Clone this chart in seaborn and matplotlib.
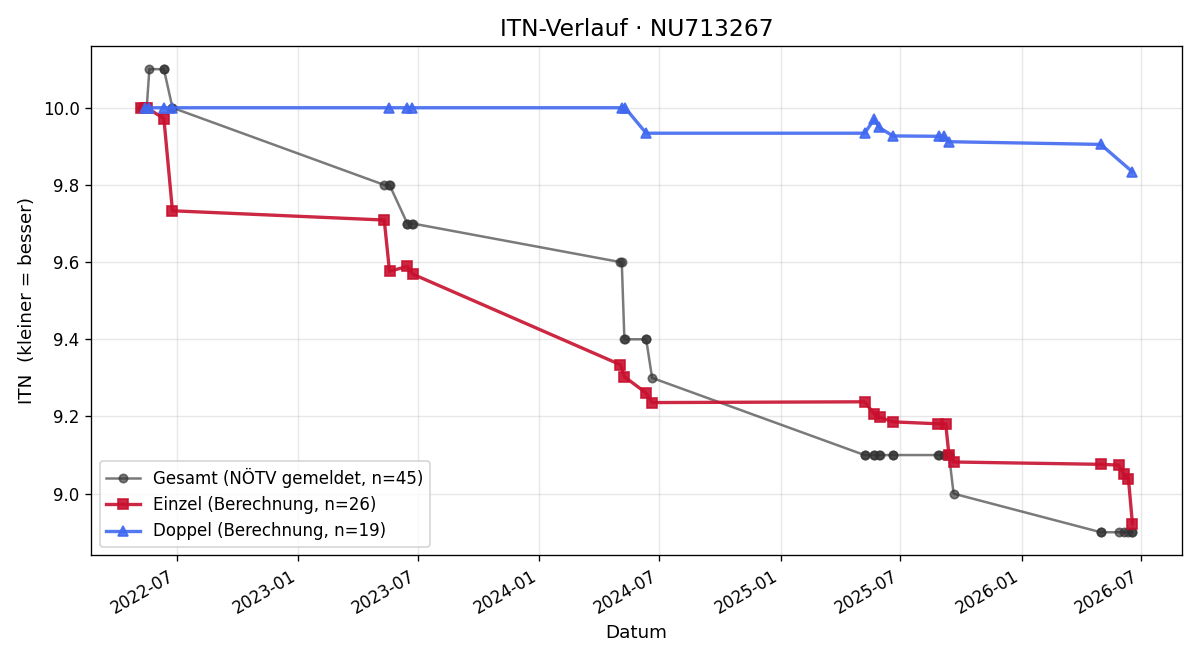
import pandas as pd
import numpy as np
import matplotlib
matplotlib.use('Agg')
import matplotlib.pyplot as plt
import matplotlib.dates as mdates
import seaborn as sns

# Daten
gesamt_datum = [
    '2022-05-07', '2022-05-13', '2022-05-13', '2022-05-16', '2022-05-20',
    '2022-06-11', '2022-06-11', '2022-06-24', '2022-06-24',
    '2023-05-11', '2023-05-18', '2023-05-19', '2023-06-15', '2023-06-15',
    '2023-06-22', '2023-06-23',
    '2024-05-03', '2024-05-05', '2024-05-09', '2024-05-10', '2024-06-10',
    '2024-06-11', '2024-06-20',
    '2025-05-08', '2025-05-08', '2025-05-23', '2025-05-23', '2025-05-30',
    '2025-05-31', '2025-06-20', '2025-06-20',
    '2025-08-28', '2025-08-29', '2025-09-05', '2025-09-08', '2025-09-13',
    '2025-09-13', '2025-09-20',
    '2026-05-01', '2026-05-01', '2026-05-28', '2026-06-05', '2026-06-12',
    '2026-06-18', '2026-06-18',
]
gesamt_itn = [
    10.0, 10.0, 10.0, 10.0, 10.1, 10.1, 10.1, 10.0, 10.0,
    9.8, 9.8, 9.8, 9.7, 9.7, 9.7, 9.7,
    9.6, 9.6, 9.4, 9.4, 9.4, 9.4, 9.3,
    9.1, 9.1, 9.1, 9.1, 9.1, 9.1, 9.1, 9.1,
    9.1, 9.1, 9.1, 9.1, 9.1, 9.1, 9.0,
    8.9, 8.9, 8.9, 8.9, 8.9, 8.9, 8.9,
]

einzel_datum = [
    '2022-05-07', '2022-05-13', '2022-05-16', '2022-06-11', '2022-06-24',
    '2023-05-11', '2023-05-19', '2023-06-15', '2023-06-23',
    '2024-05-03', '2024-05-09', '2024-06-10', '2024-06-20',
    '2025-05-08', '2025-05-23', '2025-05-31', '2025-06-20',
    '2025-08-28', '2025-09-08', '2025-09-13', '2025-09-20',
    '2026-05-01', '2026-05-28', '2026-06-05', '2026-06-12', '2026-06-18',
]
einzel_itn = [
    10.0, 10.0, 10.0, 9.972, 9.733,
    9.709, 9.576, 9.589, 9.569,
    9.334, 9.303, 9.262, 9.236,
    9.238, 9.206, 9.198, 9.186,
    9.181, 9.181, 9.099, 9.082,
    9.076, 9.074, 9.051, 9.038, 8.922,
]

doppel_datum = [
    '2022-05-13', '2022-05-20', '2022-06-11', '2022-06-24',
    '2023-05-18', '2023-06-15', '2023-06-22',
    '2024-05-05', '2024-05-10', '2024-06-11',
    '2025-05-08', '2025-05-23', '2025-05-30', '2025-06-20',
    '2025-08-29', '2025-09-05', '2025-09-13',
    '2026-05-01', '2026-06-18',
]
doppel_itn = [
    10.0, 10.0, 10.0, 10.0,
    10.0, 10.0, 10.0,
    10.0, 10.0, 9.934,
    9.934, 9.971, 9.949, 9.927,
    9.926, 9.926, 9.912,
    9.905, 9.834,
]

spieler = 'NU713267'

# Plot
fig, ax = plt.subplots(figsize=(10, 5.5), dpi=120)

sns.lineplot(x=pd.to_datetime(gesamt_datum), y=gesamt_itn, ax=ax,
             estimator=None, sort=False, color='#333333', alpha=0.65,
             linewidth=1.5, marker='o', markersize=5,
             markeredgecolor='#333333', markeredgewidth=1,
             label=f'Gesamt (NÖTV gemeldet, n={len(gesamt_itn)})')
sns.lineplot(x=pd.to_datetime(einzel_datum), y=einzel_itn, ax=ax,
             estimator=None, sort=False, color='#c8102e', alpha=0.9,
             linewidth=2, marker='s', markersize=6,
             markeredgecolor='#c8102e', markeredgewidth=1,
             label=f'Einzel (Berechnung, n={len(einzel_itn)})')
sns.lineplot(x=pd.to_datetime(doppel_datum), y=doppel_itn, ax=ax,
             estimator=None, sort=False, color='#4169f0', alpha=0.9,
             linewidth=2, marker='^', markersize=6,
             markeredgecolor='#4169f0', markeredgewidth=1,
             label=f'Doppel (Berechnung, n={len(doppel_itn)})')

ax.set_title(f'ITN-Verlauf · {spieler}', fontsize=14)
ax.set_xlabel('Datum', fontsize=11)
ax.set_ylabel('ITN  (kleiner = besser)', fontsize=11)
ax.xaxis.set_major_locator(mdates.MonthLocator(bymonth=(1, 7)))
ax.xaxis.set_major_formatter(mdates.DateFormatter('%Y-%m'))
ax.grid(True, alpha=0.3)
ax.legend(loc='lower left', fontsize=10)
fig.autofmt_xdate()

plt.tight_layout()
plt.savefig('out.png')
plt.close()
